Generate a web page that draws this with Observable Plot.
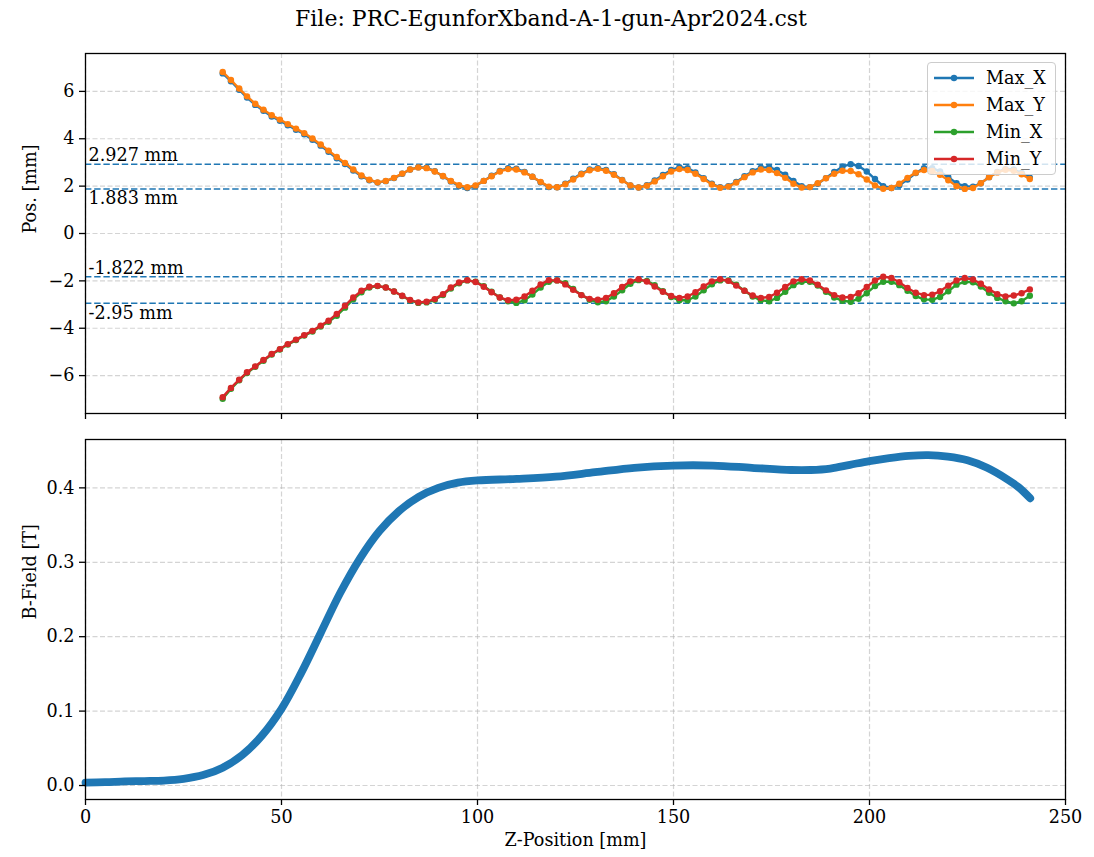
<!DOCTYPE html>
<html>
<head>
<meta charset="utf-8">
<script src="https://cdn.jsdelivr.net/npm/d3@7"></script>
<script src="https://cdn.jsdelivr.net/npm/@observablehq/plot@0.6"></script>
<style>
  body { margin: 0; background: #fff; }
  #fig { position: relative; width: 1094px; height: 857px; font-family: "DejaVu Serif", serif; color: #000; }
  #title { position: absolute; top: 6px; left: 4px; width: 1094px; text-align: center; font-size: 22px; }
  #top { position: absolute; top: 40px; left: 0; }
  #bot { position: absolute; top: 425px; left: 0; }
  #legend { position: absolute; left: 927px; top: 62px; width: 127px; padding: 1px 0 2px 0;
            background: rgba(255,255,255,0.8); border: 1px solid #cccccc; border-radius: 4px; }
  .lrow { display: flex; align-items: center; height: 27px; font-size: 17.6px; }
  .lrow svg { margin-left: 6px; margin-right: 12px; }
</style>
</head>
<body>
<div id="fig">
  <div id="title"></div>
  <div id="top"></div>
  <div id="bot"></div>
  <div id="legend"></div>
</div>
<script>
// ---------- data ----------
const zPos = [
  35.0, 37.1, 39.2, 41.2, 43.3, 45.4, 47.5, 49.6, 51.6, 53.7,
  55.8, 57.9, 60.0, 62.0, 64.1, 66.2, 68.3, 70.4, 72.4, 74.5,
  76.6, 78.7, 80.8, 82.8, 84.9, 87.0, 89.1, 91.2, 93.2, 95.3,
  97.4, 99.5, 101.6, 103.6, 105.7, 107.8, 109.9, 112.0, 114.0, 116.1,
  118.2, 120.3, 122.4, 124.4, 126.5, 128.6, 130.7, 132.8, 134.8, 136.9,
  139.0, 141.1, 143.2, 145.2, 147.3, 149.4, 151.5, 153.6, 155.6, 157.7,
  159.8, 161.9, 164.0, 166.0, 168.1, 170.2, 172.3, 174.4, 176.4, 178.5,
  180.6, 182.7, 184.8, 186.8, 188.9, 191.0, 193.1, 195.2, 197.2, 199.3,
  201.4, 203.5, 205.6, 207.6, 209.7, 211.8, 213.9, 216.0, 218.0, 220.1,
  222.2, 224.3, 226.4, 228.4, 230.5, 232.6, 234.7, 236.8, 238.8, 240.9
];
const maxX = [
  6.76, 6.43, 6.07, 5.74, 5.43, 5.18, 4.94, 4.76, 4.57, 4.38,
  4.19, 3.96, 3.71, 3.45, 3.18, 2.93, 2.66, 2.42, 2.25, 2.15,
  2.21, 2.34, 2.52, 2.70, 2.80, 2.78, 2.63, 2.42, 2.20, 2.01,
  1.92, 2.01, 2.22, 2.44, 2.64, 2.76, 2.74, 2.60, 2.40, 2.16,
  1.96, 1.95, 2.10, 2.31, 2.53, 2.70, 2.76, 2.68, 2.50, 2.26,
  2.03, 1.94, 2.04, 2.24, 2.47, 2.68, 2.80, 2.76, 2.58, 2.34,
  2.10, 1.95, 2.00, 2.18, 2.42, 2.63, 2.78, 2.80, 2.68, 2.48,
  2.22, 2.00, 1.96, 2.10, 2.34, 2.60, 2.82, 2.927, 2.85, 2.62,
  2.30, 2.00, 1.92, 2.04, 2.28, 2.55, 2.76, 2.76, 2.62, 2.38,
  2.12, 2.00, 1.98, 2.12, 2.38, 2.60, 2.72, 2.70, 2.56, 2.36
];
const maxY = [
  6.82, 6.48, 6.12, 5.79, 5.48, 5.23, 4.99, 4.81, 4.62, 4.43,
  4.24, 4.01, 3.76, 3.50, 3.23, 2.98, 2.70, 2.45, 2.27, 2.16,
  2.22, 2.35, 2.53, 2.70, 2.79, 2.76, 2.62, 2.43, 2.22, 2.04,
  1.95, 2.03, 2.22, 2.42, 2.62, 2.72, 2.70, 2.58, 2.40, 2.18,
  1.98, 1.95, 2.08, 2.28, 2.50, 2.67, 2.73, 2.65, 2.48, 2.25,
  2.03, 1.94, 2.02, 2.20, 2.42, 2.62, 2.72, 2.68, 2.52, 2.30,
  2.07, 1.93, 1.98, 2.15, 2.38, 2.58, 2.70, 2.68, 2.55, 2.35,
  2.10, 1.94, 1.96, 2.12, 2.33, 2.52, 2.65, 2.64, 2.50, 2.28,
  2.03, 1.89, 1.92, 2.10, 2.35, 2.57, 2.68, 2.64, 2.48, 2.25,
  2.00, 1.883, 1.92, 2.12, 2.38, 2.58, 2.69, 2.65, 2.50, 2.30
];
const minX = [
  -6.98, -6.56, -6.20, -5.89, -5.63, -5.37, -5.11, -4.90, -4.69, -4.50,
  -4.31, -4.14, -3.93, -3.73, -3.47, -3.13, -2.78, -2.48, -2.28, -2.22,
  -2.28, -2.45, -2.64, -2.83, -2.93, -2.91, -2.80, -2.60, -2.32, -2.10,
  -1.98, -2.03, -2.22, -2.46, -2.70, -2.86, -2.93, -2.82, -2.58, -2.28,
  -2.04, -1.98, -2.10, -2.34, -2.60, -2.80, -2.90, -2.86, -2.66, -2.40,
  -2.12, -1.97, -2.00, -2.18, -2.44, -2.68, -2.82, -2.82, -2.66, -2.40,
  -2.14, -1.98, -1.98, -2.16, -2.42, -2.66, -2.82, -2.86, -2.72, -2.46,
  -2.18, -2.04, -2.04, -2.20, -2.46, -2.70, -2.84, -2.88, -2.76, -2.52,
  -2.22, -2.04, -2.04, -2.18, -2.42, -2.64, -2.78, -2.80, -2.68, -2.44,
  -2.16, -2.04, -2.06, -2.24, -2.50, -2.72, -2.86, -2.95, -2.86, -2.63
];
const minY = [
  -6.91, -6.52, -6.17, -5.86, -5.61, -5.34, -5.09, -4.88, -4.67, -4.48,
  -4.29, -4.11, -3.89, -3.68, -3.40, -3.05, -2.70, -2.42, -2.25, -2.21,
  -2.28, -2.45, -2.63, -2.81, -2.91, -2.88, -2.77, -2.56, -2.28, -2.07,
  -1.97, -2.05, -2.25, -2.48, -2.70, -2.82, -2.80, -2.66, -2.42, -2.15,
  -1.97, -1.98, -2.15, -2.38, -2.60, -2.76, -2.80, -2.72, -2.52, -2.26,
  -2.02, -1.93, -2.03, -2.24, -2.46, -2.64, -2.72, -2.66, -2.48, -2.24,
  -2.02, -1.93, -2.00, -2.20, -2.42, -2.62, -2.72, -2.68, -2.50, -2.26,
  -2.02, -1.93, -1.98, -2.16, -2.40, -2.60, -2.70, -2.68, -2.52, -2.26,
  -1.98, -1.822, -1.88, -2.06, -2.30, -2.50, -2.60, -2.58, -2.44, -2.20,
  -1.98, -1.88, -1.94, -2.12, -2.36, -2.56, -2.66, -2.62, -2.52, -2.36
];
const seriesNames = ["Max_X", "Max_Y", "Min_X", "Min_Y"];
const seriesColors = ["#1f77b4", "#ff7f0e", "#2ca02c", "#d62728"];
const seriesValues = [maxX, maxY, minX, minY];

const refValues = [2.927, 1.883, -1.822, -2.95];
const refLabels = ["2.927 mm", "1.883 mm", "-1.822 mm", "-2.95 mm"];

const bZ = [0, 5, 10, 15, 20, 25, 30, 35, 40, 45, 50, 55, 60, 65, 70, 75, 80, 85, 90, 95,
            100, 110, 120, 130, 140, 150, 160, 170, 180, 185, 190, 195, 200, 205, 210, 215, 220, 225, 230, 235, 238, 241];
const bField = [0.004, 0.0045, 0.0055, 0.006, 0.0067, 0.009, 0.014, 0.024, 0.041, 0.067,
                0.103, 0.151, 0.205, 0.259, 0.305, 0.342, 0.369, 0.388, 0.400, 0.407,
                0.410, 0.412, 0.415, 0.421, 0.427, 0.430, 0.430, 0.427, 0.424, 0.424, 0.426, 0.431, 0.436,
                0.440, 0.443, 0.444, 0.442, 0.437, 0.427, 0.412, 0.401, 0.386];

const xTicks = [0, 50, 100, 150, 200, 250];
const posTicks = [-6, -4, -2, 0, 2, 4, 6];
const bTicks = [0.0, 0.1, 0.2, 0.3, 0.4];
const titleText = "File: PRC-EgunforXband-A-1-gun-Apr2024.cst";
const posLabel = "Pos. [mm]";
const bLabel = "B-Field [T]";
const zLabel = "Z-Position [mm]";

// ---------- build ----------
const W = 1094;
const FONT = '"DejaVu Serif", serif';
const FS = 17.6;
const gridStyle = {stroke: "#b0b0b0", strokeOpacity: 0.55, strokeWidth: 1.2, strokeDasharray: "5,2.5"};
const refRows = refValues.map((v, i) => ({v, label: refLabels[i], above: i % 2 === 0}));

const seriesMarks = seriesNames.flatMap((name, i) => {
  const rows = zPos.map((z, k) => ({z, v: seriesValues[i][k]}));
  return [
    Plot.line(rows, {x: "z", y: "v", stroke: seriesColors[i], strokeWidth: 2.4}),
    Plot.dot(rows, {x: "z", y: "v", fill: seriesColors[i], r: 3.2})
  ];
});

const topPlot = Plot.plot({
  width: W, height: 385,
  marginLeft: 85, marginRight: 29, marginTop: 13, marginBottom: 12,
  x: {domain: [0, 250]},
  y: {domain: [-7.6, 7.6]},
  style: {fontFamily: FONT, fontSize: FS + "px", color: "#000", background: "transparent", overflow: "visible"},
  marks: [
    Plot.gridX(xTicks, gridStyle),
    Plot.gridY(posTicks, gridStyle),
    Plot.ruleY(refRows, {y: "v", stroke: "#1f77b4", strokeWidth: 1.5, strokeDasharray: "6.4,2.8"}),
    Plot.text(refRows.filter(d => d.above), {y: "v", text: "label", frameAnchor: "left", textAnchor: "start",
      lineAnchor: "bottom", dx: 3, dy: -3, fontSize: FS, fill: "#000"}),
    Plot.text(refRows.filter(d => !d.above), {y: "v", text: "label", frameAnchor: "left", textAnchor: "start",
      lineAnchor: "top", dx: 3, dy: 3, fontSize: FS, fill: "#000"}),
    ...seriesMarks,
    Plot.axisX({ticks: xTicks, tickSize: 6, tickFormat: () => "", label: null, strokeWidth: 1.3}),
    Plot.axisY({ticks: posTicks, tickSize: 6, tickPadding: 5, label: null, strokeWidth: 1.3, fontSize: FS}),
    Plot.frame({stroke: "#000", strokeWidth: 1.3}),
    Plot.text([posLabel], {text: d => d, frameAnchor: "left", rotate: -90, dx: -55, fontSize: FS, fill: "#000"})
  ]
});
document.getElementById("top").appendChild(topPlot);

const bRows = bZ.map((z, k) => ({z, b: bField[k]}));
const botPlot = Plot.plot({
  width: W, height: 431,
  marginLeft: 85, marginRight: 29, marginTop: 14, marginBottom: 57,
  x: {domain: [0, 250]},
  y: {domain: [-0.0188, 0.465]},
  style: {fontFamily: FONT, fontSize: FS + "px", color: "#000", background: "transparent", overflow: "visible"},
  marks: [
    Plot.gridX(xTicks, gridStyle),
    Plot.gridY(bTicks, gridStyle),
    Plot.line(bRows, {x: "z", y: "b", stroke: "#1f77b4", strokeWidth: 7.8, curve: "catmull-rom",
      strokeLinecap: "round", strokeLinejoin: "round"}),
    Plot.axisX({ticks: xTicks, tickSize: 6, tickPadding: 5, label: null, strokeWidth: 1.3, fontSize: FS}),
    Plot.axisY({ticks: bTicks, tickSize: 6, tickPadding: 5, tickFormat: d3.format(".1f"), label: null,
      strokeWidth: 1.3, fontSize: FS}),
    Plot.frame({stroke: "#000", strokeWidth: 1.3}),
    Plot.text([bLabel], {text: d => d, frameAnchor: "left", rotate: -90, dx: -55, fontSize: FS, fill: "#000"}),
    Plot.text([zLabel], {text: d => d, frameAnchor: "bottom", dy: 46, fontSize: FS, fill: "#000"})
  ]
});
document.getElementById("bot").appendChild(botPlot);

document.getElementById("title").textContent = titleText;

// legend
const legend = document.getElementById("legend");
seriesNames.forEach((name, i) => {
  const row = document.createElement("div");
  row.className = "lrow";
  row.innerHTML = `<svg width="40" height="10"><line x1="0" x2="40" y1="5" y2="5" stroke="${seriesColors[i]}" stroke-width="2.4"/>` +
    `<circle cx="20" cy="5" r="3.2" fill="${seriesColors[i]}"/></svg><span>${name}</span>`;
  legend.appendChild(row);
});
</script>
</body>
</html>
